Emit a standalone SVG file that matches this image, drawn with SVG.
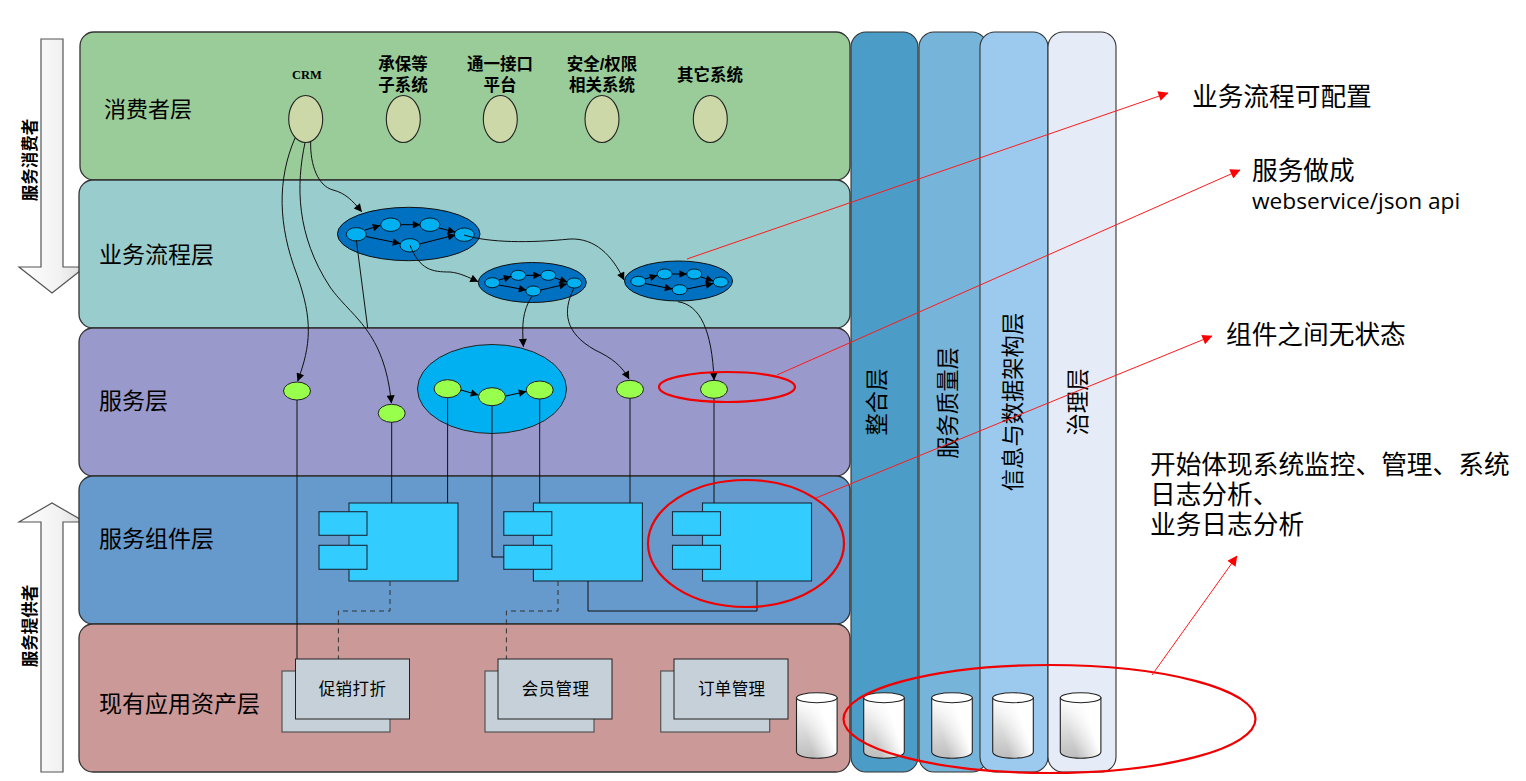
<svg xmlns="http://www.w3.org/2000/svg" xmlns:xlink="http://www.w3.org/1999/xlink" width="1526" height="781" viewBox="0 0 1526 781">
<style>
text{font-family:"Liberation Sans","Noto Sans CJK SC",sans-serif;fill:#000}
.layer{stroke:#333;stroke-width:1.3}
.lbl{font-size:23px;dominant-baseline:central}
.col{stroke:#333;stroke-width:1.1}
.vl{font-size:22.300px;text-anchor:middle;dominant-baseline:central}
.side{font-size:16.500px;font-weight:700;text-anchor:middle;dominant-baseline:central}
.sys{fill:#CCD8A8;stroke:#222;stroke-width:1.1}
.sl{font-size:16.500px;font-weight:700;text-anchor:middle;dominant-baseline:central}
.bp{fill:#0070C0;stroke:#111;stroke-width:1}
.bn{fill:#00B0F0;stroke:#000;stroke-width:.8}
.sv{fill:#99FF4D;stroke:#222;stroke-width:1}
.cp{fill:#33CCFF;stroke:#1a2a3a;stroke-width:1.1}
.app{fill:#C6D0D8;stroke:#222;stroke-width:1}
.appb{fill:#C6D0D8;stroke:#555;stroke-width:1.2}
.at{font-size:16.500px;text-anchor:middle;dominant-baseline:central;letter-spacing:.4px}
.w{fill:none;stroke:#111;stroke-width:1}
.a{marker-end:url(#ah)}
.in{fill:none;stroke:#000;stroke-width:1;marker-end:url(#ah2)}
.d{fill:none;stroke:#333;stroke-width:1;stroke-dasharray:5 4}
.r{fill:none;stroke:#FF1A1A;stroke-width:1}
.ra{marker-end:url(#rh)}
.re{fill:none;stroke:#F00000;stroke-width:2.200}
.note{font-size:25.700px;dominant-baseline:central}
</style>
<defs>
<marker id="ah" viewBox="0 0 10 10" refX="9.500" refY="5" markerWidth="10" markerHeight="8" markerUnits="userSpaceOnUse" orient="auto"><path d="M0 0L10 5L0 10z" fill="#000"/></marker>
<marker id="ah2" viewBox="0 0 10 10" refX="9.500" refY="5" markerWidth="10" markerHeight="7.500" markerUnits="userSpaceOnUse" orient="auto"><path d="M0 0L10 5L0 10z" fill="#000"/></marker>
<marker id="rh" viewBox="0 0 10 10" refX="9.500" refY="5" markerWidth="12" markerHeight="10" markerUnits="userSpaceOnUse" orient="auto"><path d="M0 0L10 5L0 10z" fill="#FF0000"/></marker>
<linearGradient id="ag" x1="0" x2="1" y1="0" y2="0"><stop offset="0" stop-color="#fff"/><stop offset=".6" stop-color="#f2f2f2"/><stop offset="1" stop-color="#dcdcdc"/></linearGradient>
<linearGradient id="cg" x1="0" x2="0" y1="0" y2="1"><stop offset="0" stop-color="#fff"/><stop offset="1" stop-color="#bdbdbd"/></linearGradient>
<linearGradient id="cw" x1=".3" y1=".72" x2=".78" y2=".48"><stop offset="0" stop-color="#fff" stop-opacity="0"/><stop offset="1" stop-color="#fff"/></linearGradient>
<g id="cyl">
<path d="M0 6V60C0 64 9 66.500 20.300 66.500S40.600 64 40.600 60V6z" fill="url(#cg)"/>
<path d="M0 6V60C0 64 9 66.500 20.300 66.500S40.600 64 40.600 60V6z" fill="url(#cw)" stroke="#222" stroke-width="1.100"/>
<ellipse cx="20.300" cy="6" rx="20.300" ry="5" fill="#fff" stroke="#222" stroke-width="1.100"/>
</g>
</defs>
<rect width="1526" height="781" fill="#fff"/>

<g id="arrow-consumer">
<path d="M41 39H63V267H85L52 293L19 267H41z" fill="url(#ag)" stroke="#555" stroke-width="1.200"/>
<text class="side" transform="translate(30 160) rotate(-90)">服务消费者</text>
</g>
<g id="arrow-provider">
<path d="M41 772H63V522H85L52 503L19 522H41z" fill="url(#ag)" stroke="#555" stroke-width="1.200"/>
<text class="side" transform="translate(30 626) rotate(-90)">服务提供者</text>
</g>

<g id="col-integration"><rect class="col" x="851" y="32" width="67" height="740" rx="15" fill="#4B9CC6"/><text class="vl" transform="translate(877 402) rotate(-90)">整合层</text></g>
<g id="col-qos"><rect class="col" x="919" y="32" width="68" height="740" rx="15" fill="#77B4DA"/><text class="vl" transform="translate(948 403) rotate(-90)">服务质量层</text></g>
<g id="col-data"><rect class="col" x="980" y="32" width="68" height="740" rx="15" fill="#9BCAEE"/><text class="vl" transform="translate(1013 402) rotate(-90)">信息与数据架构层</text></g>
<g id="col-gov"><rect class="col" x="1048" y="32" width="68" height="740" rx="15" fill="#E5ECF7"/><text class="vl" transform="translate(1078 402) rotate(-90)">治理层</text></g>

<g id="layer-consumer"><rect class="layer" x="80" y="32" width="770" height="148" rx="14" fill="#9ACC99"/><text class="lbl" x="104" y="109" style="font-size:22px">消费者层</text></g>
<g id="layer-process"><rect class="layer" x="79" y="180" width="771" height="148" rx="14" fill="#99CCCC"/><text class="lbl" x="99" y="255">业务流程层</text></g>
<g id="layer-service"><rect class="layer" x="79" y="328" width="771" height="148" rx="14" fill="#9999CC"/><text class="lbl" x="99" y="401">服务层</text></g>
<g id="layer-component"><rect class="layer" x="79" y="476" width="771" height="148" rx="14" fill="#6699CC"/><text class="lbl" x="99" y="539">服务组件层</text></g>
<g id="layer-asset"><rect class="layer" x="79" y="624" width="771" height="148" rx="14" fill="#CC9999"/><text class="lbl" x="99" y="704">现有应用资产层</text></g>

<g id="sys-crm"><ellipse class="sys" cx="305.700" cy="119" rx="17" ry="23.500"/><text x="307" y="75" font-size="12.500" font-weight="700" text-anchor="middle" dominant-baseline="central" style="font-family:'Liberation Serif',serif">CRM</text></g>
<g id="sys-uw"><ellipse class="sys" cx="403.300" cy="119" rx="17" ry="23.500"/><text class="sl" x="403" y="64">承保等</text><text class="sl" x="403" y="85">子系统</text></g>
<g id="sys-api"><ellipse class="sys" cx="500.300" cy="119" rx="17" ry="23.500"/><text class="sl" x="500" y="64">通一接口</text><text class="sl" x="500" y="85">平台</text></g>
<g id="sys-sec"><ellipse class="sys" cx="602" cy="119" rx="17" ry="23.500"/><text class="sl" x="602" y="64">安全/权限</text><text class="sl" x="602" y="85">相关系统</text></g>
<g id="sys-other"><ellipse class="sys" cx="710.300" cy="119" rx="17" ry="23.500"/><text class="sl" x="710" y="75">其它系统</text></g>

<g id="bp-1">
<ellipse class="bp" cx="408.700" cy="234" rx="71.300" ry="26.700"/>
<g class="bn"><ellipse cx="356.300" cy="234.300" rx="10" ry="6.700"/><ellipse cx="390.700" cy="224.700" rx="10" ry="6.700"/><ellipse cx="430" cy="224.700" rx="10" ry="6.700"/><ellipse cx="464.300" cy="234.700" rx="10" ry="6.700"/><ellipse cx="410" cy="245.300" rx="10" ry="6.700"/></g>
<path class="in" d="M365 230L380 225.500"/><path class="in" d="M400.700 224.700H420"/><path class="in" d="M439 228L455 232"/><path class="in" d="M366 236.500L400 243.500"/><path class="in" d="M419.500 244L455 235"/>
</g>
<g id="bp-2">
<ellipse class="bp" cx="532.300" cy="282.500" rx="54" ry="20"/>
<g class="bn"><ellipse cx="492.300" cy="282.700" rx="7.500" ry="5"/><ellipse cx="518.300" cy="275.300" rx="7.500" ry="5"/><ellipse cx="548.300" cy="275.300" rx="7.500" ry="5"/><ellipse cx="574.300" cy="283" rx="7.500" ry="5"/><ellipse cx="533.300" cy="291" rx="7.500" ry="5"/></g>
<path class="in" d="M499 280L511 276.500"/><path class="in" d="M526 275.300H540.500"/><path class="in" d="M555 278L567 282"/><path class="in" d="M499 285L526 290"/><path class="in" d="M541 290L566.500 284"/>
</g>
<g id="bp-3">
<ellipse class="bp" cx="678.500" cy="281" rx="54" ry="20"/>
<g class="bn"><ellipse cx="638.300" cy="281.300" rx="7.500" ry="5"/><ellipse cx="664.700" cy="274" rx="7.500" ry="5"/><ellipse cx="694.300" cy="274" rx="7.500" ry="5"/><ellipse cx="720.700" cy="282" rx="7.500" ry="5"/><ellipse cx="679.700" cy="289.700" rx="7.500" ry="5"/></g>
<path class="in" d="M645 279L657 275.500"/><path class="in" d="M672.500 274H686.500"/><path class="in" d="M701 277L713 281"/><path class="in" d="M645 283.500L672 289"/><path class="in" d="M687 289L713 283.500"/>
</g>

<g id="sv-1"><ellipse class="sv" cx="297" cy="391" rx="13.500" ry="9"/></g>
<g id="sv-2"><ellipse class="sv" cx="391.700" cy="413.300" rx="13.500" ry="9"/></g>
<g id="sv-group">
<ellipse cx="492" cy="389" rx="74.500" ry="44.500" fill="#00B0F0" stroke="#222" stroke-width="1"/>
<ellipse class="sv" cx="447.600" cy="388.700" rx="13.500" ry="9"/><ellipse class="sv" cx="492" cy="396.700" rx="13.500" ry="9"/><ellipse class="sv" cx="539.700" cy="390" rx="13.500" ry="9"/>
<path class="in" d="M461 390L478 395"/><path class="in" d="M506 396L526 391.500"/>
</g>
<g id="sv-3"><ellipse class="sv" cx="630" cy="389.300" rx="13.500" ry="9"/></g>
<g id="sv-4"><ellipse class="sv" cx="714" cy="389.300" rx="13.500" ry="9"/></g>

<g id="cp-1"><rect class="cp" x="349" y="503" width="109" height="78"/><rect class="cp" x="319" y="511.700" width="48" height="23.600"/><rect class="cp" x="319" y="545.300" width="48" height="24"/></g>
<g id="cp-2"><rect class="cp" x="533.400" y="503" width="109" height="78"/><rect class="cp" x="503.800" y="511.700" width="48" height="23.600"/><rect class="cp" x="503.800" y="545.300" width="48" height="24"/></g>
<g id="cp-3"><rect class="cp" x="702.500" y="503" width="109" height="78"/><rect class="cp" x="672.500" y="511.700" width="48" height="23.600"/><rect class="cp" x="672.500" y="545.300" width="48" height="24"/></g>

<g id="connectors">
<path class="w a" d="M295 138C277 180 278 225 297 275C313 320 311 345 297.700 381"/>
<path class="w a" d="M305 142.700C296 185 296 235 330 287C352 318 384 330 391.400 403"/>
<path class="w a" d="M310.700 141.700C310 165 318 186 333 190C345 193 352 200 361.700 211.700"/>
<path class="w a" d="M464 235C490 243 530 243 570 239C595 238 612 255 624 280"/>
<path class="w a" d="M410 245.300C420 270 432 272 450 272C460 273 468 277 478 281.700"/>
<path class="w a" d="M532 296C522 312 522 325 523.400 346.700"/>
<path class="w a" d="M574 288C562 312 565 333 595 350C612 358 622 366 629 379"/>
<path class="w a" d="M678 301.700C700 305 712 330 714 380"/>
<path class="w" d="M356.300 240L367.700 328"/>
<path class="w" d="M297 400V659M391.700 422.300V503M447.600 397.700V503M492 405.700V557H503.800M539.700 399V503M630 398.300V503M714 398.300V503"/>
<path class="w" d="M588 581V611H757V581"/>
<path class="d" d="M390 581V611H338.400V659M558 581V611H506.400V659"/>
</g>

<g id="app-promo"><rect class="appb" x="282" y="671" width="108" height="61"/><rect class="app" x="295.500" y="659" width="114" height="60"/><text class="at" x="352.500" y="689">促销打折</text></g>
<g id="app-member"><rect class="appb" x="485" y="671" width="109" height="61"/><rect class="app" x="498" y="659" width="114" height="60"/><text class="at" x="555.500" y="689">会员管理</text></g>
<g id="app-order"><rect class="appb" x="660.700" y="671" width="109" height="61"/><rect class="app" x="674" y="659" width="114" height="60"/><text class="at" x="731.700" y="689">订单管理</text></g>

<g id="db-0"><use xlink:href="#cyl" href="#cyl" x="796.500" y="691.700"/></g>
<g id="db-1"><use xlink:href="#cyl" href="#cyl" x="863.700" y="691.700"/></g>
<g id="db-2"><use xlink:href="#cyl" href="#cyl" x="931.700" y="691.700"/></g>
<g id="db-3"><use xlink:href="#cyl" href="#cyl" x="992.700" y="691.700"/></g>
<g id="db-4"><use xlink:href="#cyl" href="#cyl" x="1060.300" y="691.700"/></g>

<g id="callouts">
<ellipse class="re" cx="727" cy="387" rx="68" ry="15"/>
<ellipse class="re" cx="746" cy="543.500" rx="98" ry="63.500"/>
<ellipse class="re" cx="1049.500" cy="719" rx="206" ry="54"/>
<path class="r ra" d="M687 259L1168 93"/>
<path class="r ra" d="M777 375L1240 170"/>
<path class="r ra" d="M816 498L1212 336"/>
<path class="r ra" d="M1152 675L1237 556"/>
</g>

<g id="notes">
<text class="note" x="1192" y="97">业务流程可配置</text>
<text class="note" x="1252" y="171">服务做成</text>
<text x="1252" y="200.500" font-size="22.700" dominant-baseline="central" style="font-family:'Open Sans',sans-serif">webservice/json api</text>
<text class="note" x="1226" y="335">组件之间无状态</text>
<text class="note" x="1150" y="465">开始体现系统监控、管理、系统</text>
<text class="note" x="1150" y="495">日志分析、</text>
<text class="note" x="1150" y="525">业务日志分析</text>
</g>
</svg>
